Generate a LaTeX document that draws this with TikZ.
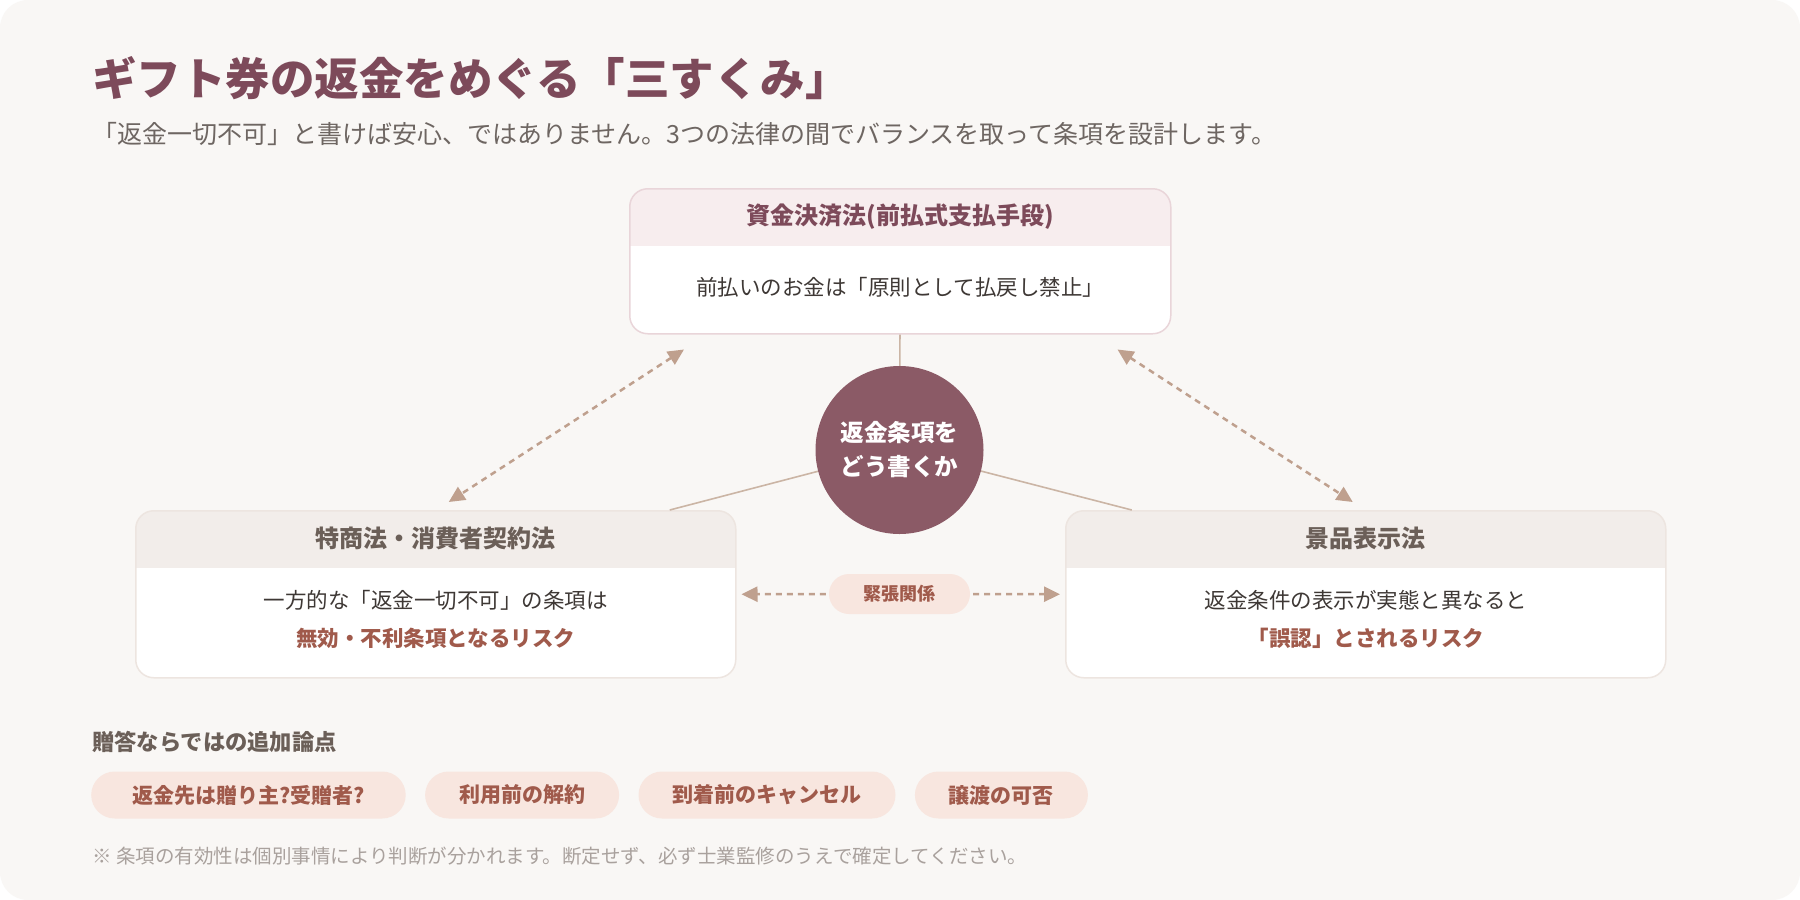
\documentclass[tikz,border=0pt]{standalone}
\usepackage{fontspec}
\setmainfont{Noto Sans CJK JP}
\usetikzlibrary{arrows.meta,positioning}
\definecolor{canvas}{HTML}{F9F7F5}
\definecolor{titlec}{HTML}{7D4A5A}
\definecolor{subc}{HTML}{6E6662}
\definecolor{topedge}{HTML}{E9D5D9}
\definecolor{tophead}{HTML}{F7EDEE}
\definecolor{sideedge}{HTML}{EDE5E0}
\definecolor{sidehead}{HTML}{F2EDEA}
\definecolor{sidename}{HTML}{6B5F58}
\definecolor{bodyc}{HTML}{3E3835}
\definecolor{accent}{HTML}{A05A4B}
\definecolor{hubc}{HTML}{8B5A66}
\definecolor{linkc}{HTML}{CBB5A5}
\definecolor{arrowc}{HTML}{BFA08E}
\definecolor{pillc}{HTML}{F8E6DF}
\definecolor{notec}{HTML}{A9A19D}

\begin{document}
\begin{tikzpicture}
[ x=1pt,y=-1pt,
		lawbox/.style={rectangle,rounded corners=18pt,draw=#1,line width=1.5pt,fill=white,anchor=north west},
		headband/.style={path picture={\fill[#1,sharp corners] (path picture bounding box.north west) rectangle ([yshift=-57pt]path picture bounding box.north east);}},
		headtext/.style={inner sep=0pt,text=#1,font=\fontsize{24}{28}\selectfont\bfseries},
		bodytext/.style={inner sep=0pt,text=bodyc,align=center,font=\fontsize{21.5}{38}\selectfont},
		hub/.style={circle,fill=hubc,minimum size=168pt,inner sep=0pt,text=white,align=center,font=\fontsize{23.5}{34}\selectfont\bfseries},
		link/.style={draw=linkc,line width=1.6pt},
		strainline/.style={draw=arrowc,line width=2.5pt,dash pattern=on 6pt off 5pt,>={Triangle[length=16pt,width=15pt]}},
		straintag/.style={rectangle,rounded corners=20pt,fill=pillc,minimum width=141pt,minimum height=40pt,text=accent,font=\fontsize{18}{22}\selectfont\bfseries},
		giftpoint/.style={rectangle,rounded corners=23.5pt,fill=pillc,minimum height=47pt,inner xsep=34pt,text=accent,font=\fontsize{21}{24}\selectfont\bfseries},
		plaintext/.style={inner sep=0pt,anchor=west}]

	% canvas
	\useasboundingbox (0,0) rectangle (1800,900);
	\fill[white] (0,0) rectangle (1800,900);
	\fill[canvas,rounded corners=28pt] (0,0) rectangle (1800,900);

	% heading
	\node[plaintext,text=titlec,font=\fontsize{44.5}{50}\selectfont\bfseries] (title) at (92,78) {ギフト券の返金をめぐる「三すくみ」};
	\node[plaintext,text=subc,font=\fontsize{25}{30}\selectfont] (subtitle) at (92,134) {「返金一切不可」と書けば安心、ではありません。3つの法律の間でバランスを取って条項を設計します。};

	% three laws
	\node[lawbox=topedge,headband=tophead,minimum width=541pt,minimum height=145pt] (fund) at (629,188) {};
	\node[headtext=titlec] (fundname) at ([yshift=-29pt]fund.north) {資金決済法(前払式支払手段)};
	\node[bodytext] (fundrule) at ([yshift=-99pt]fund.north) {前払いのお金は「原則として払戻し禁止」};

	\node[lawbox=sideedge,headband=sidehead,minimum width=600pt,minimum height=167pt] (consumer) at (135,510) {};
	\node[headtext=sidename] (consumername) at ([yshift=-28pt]consumer.north) {特商法・消費者契約法};
	\node[bodytext] (consumerrule) at ([yshift=-109pt]consumer.north) {一方的な「返金一切不可」の条項は\\{\bfseries\color{accent}無効・不利条項となるリスク}};

	\node[lawbox=sideedge,headband=sidehead,minimum width=600pt,minimum height=167pt] (premium) at (1065,510) {};
	\node[headtext=sidename] (premiumname) at ([yshift=-28pt]premium.north) {景品表示法};
	\node[bodytext] (premiumrule) at ([yshift=-109pt]premium.north) {返金条件の表示が実態と異なると\\{\bfseries\color{accent}「誤認」とされるリスク}};

	% centre
	\draw[link] (899.5,450) -- ([xshift=234pt]consumer.north);
	\draw[link] (899.5,450) -- ([xshift=-234pt]premium.north);
	\node[hub] (clause) at (899.5,450) {返金条項を\\どう書くか};
	\draw[link] (fund) -- (clause);

	\draw[strainline,<->] ([xshift=55pt,yshift=-15pt]fund.south west) -- ([xshift=13pt,yshift=8pt]consumer.north);
	\draw[strainline,<->] ([xshift=-54pt,yshift=-15pt]fund.south east) -- ([xshift=-13pt,yshift=8pt]premium.north);

	\node[straintag] (strain) at (899.5,594) {緊張関係};
	\draw[strainline,->,shorten <=3pt,shorten >=5pt] (strain) -- (consumer.east);
	\draw[strainline,->,shorten <=3pt,shorten >=5pt] (strain) -- (premium.west);

	% gift points
	\node[plaintext,text=sidename,font=\fontsize{22.3}{26}\selectfont\bfseries] (extra) at (92,742) {贈答ならではの追加論点};
	\node[giftpoint,inner xsep=41pt,anchor=west] (p1) at (91,795) {返金先は贈り主?受贈者?};
	\node[giftpoint,right=19pt of p1] (p2) {利用前の解約};
	\node[giftpoint,right=19pt of p2] (p3) {到着前のキャンセル};
	\node[giftpoint,right=19pt of p3] (p4) {譲渡の可否};

	\node[plaintext,text=notec,font=\fontsize{19.5}{24}\selectfont] (note) at (92,856) {※ 条項の有効性は個別事情により判断が分かれます。断定せず、必ず士業監修のうえで確定してください。};
\end{tikzpicture}
\end{document}
